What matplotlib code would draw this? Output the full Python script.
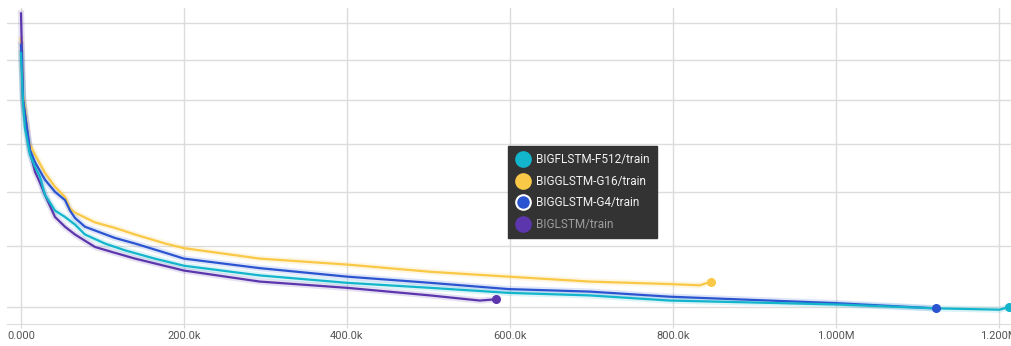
import numpy as np
import matplotlib
matplotlib.use("Agg")
import matplotlib.pyplot as plt
from matplotlib.lines import Line2D
from matplotlib.ticker import FuncFormatter, FixedLocator, NullLocator

plt.rcParams['font.family'] = ['Roboto', 'DejaVu Sans']

# training loss (step, smoothed loss)
g16_steps = [0, 2.5e3, 4.9e3, 9.0e3, 17.2e3, 29.4e3, 41.7e3, 54.0e3, 60.1e3, 66.3e3,
             90.8e3, 115e3, 140e3, 177e3, 200e3, 293e3, 400e3, 502e3, 598e3,
             698e3, 796e3, 833e3, 847e3]
g16_loss = [6.28, 5.55, 5.40, 5.02, 4.88, 4.69, 4.55, 4.45, 4.34, 4.30,
            4.21, 4.16, 4.10, 4.02, 3.98, 3.89, 3.84, 3.78, 3.74,
            3.70, 3.68, 3.67, 3.70]

g4_steps = [0, 2.5e3, 11e3, 17.2e3, 29.4e3, 41.7e3, 54.0e3, 60.1e3, 66.3e3, 78.5e3,
            115e3, 140e3, 177e3, 200e3, 293e3, 400e3, 502e3, 598e3, 698e3,
            796e3, 1.0e6, 1.123e6]
g4_loss = [6.20, 5.50, 4.93, 4.80, 4.62, 4.50, 4.42, 4.32, 4.25, 4.17,
           4.07, 4.02, 3.94, 3.89, 3.81, 3.74, 3.69, 3.64, 3.62,
           3.58, 3.53, 3.49]

f512_steps = [0, 2.5e3, 4.9e3, 11e3, 17.2e3, 23.3e3, 29.4e3, 41.7e3, 54.0e3, 66.3e3,
              78.5e3, 103e3, 128e3, 164e3, 200e3, 293e3, 400e3, 502e3, 598e3,
              698e3, 796e3, 1.0e6, 1.123e6, 1.201e6, 1.212e6]
f512_loss = [6.09, 5.45, 5.17, 4.88, 4.75, 4.65, 4.47, 4.32, 4.26, 4.19,
             4.10, 4.02, 3.96, 3.89, 3.83, 3.75, 3.69, 3.65, 3.61,
             3.59, 3.55, 3.52, 3.49, 3.48, 3.50]

big_steps = [0, 2.5e3, 11e3, 17.2e3, 23.3e3, 29.4e3, 41.7e3, 54.0e3, 66.3e3,
             90.8e3, 115e3, 140e3, 200e3, 293e3, 400e3, 502e3, 563e3, 583e3]
big_loss = [6.64, 5.50, 4.91, 4.70, 4.59, 4.47, 4.26, 4.17, 4.10,
            3.99, 3.94, 3.89, 3.79, 3.70, 3.65, 3.59, 3.55, 3.56]

names = ["BIGFLSTM-F512/train", "BIGGLSTM-G16/train", "BIGGLSTM-G4/train", "BIGLSTM/train"]
colors = ["#12B5CB", "#F9C846", "#2B55D0", "#5B36AC"]
grid_vals = [3.5, 4.0, 4.5, 5.0, 5.5, 6.0, 6.5]
x_ticks = [0, 200e3, 400e3, 600e3, 800e3, 1.0e6, 1.2e6]

fig = plt.figure(figsize=(10.12, 3.46), dpi=100)
ax = fig.add_axes([7 / 1012, 22 / 346, 1005 / 1012, 316 / 346])

series = [(f512_steps, f512_loss), (g16_steps, g16_loss), (g4_steps, g4_loss), (big_steps, big_loss)]
# draw order: purple at the back, cyan on top like the screenshot
for i in [1, 3, 2, 0]:
    xs, ys = series[i]
    ax.plot(xs, ys, color=colors[i], lw=4.5, alpha=0.15, solid_joinstyle='round', zorder=2)
for i in [1, 3, 2, 0]:
    xs, ys = series[i]
    ax.plot(xs, ys, color=colors[i], lw=1.6, zorder=3)
    ax.plot(xs[-1], ys[-1], 'o', color=colors[i], ms=5.5, zorder=4)

ax.set_yscale('log')
ax.set_ylim(3.373, 6.72)
ax.set_xlim(-17.2e3, 1.216e6)
ax.yaxis.set_major_locator(FixedLocator(grid_vals))
ax.yaxis.set_minor_locator(NullLocator())
ax.set_yticklabels([])
ax.tick_params(axis='y', length=0)


def fmt(x, pos):
    if x >= 1e6:
        return f"{x / 1e6:.3f}M"
    if x >= 1e3:
        return f"{x / 1e3:.1f}k"
    return f"{x:.3f}"


ax.xaxis.set_major_locator(FixedLocator(x_ticks))
ax.xaxis.set_major_formatter(FuncFormatter(fmt))
ax.tick_params(axis='x', length=3, color='#d9d9d9', labelsize=8, labelcolor='#555555', pad=2)

ax.grid(True, color='#dcdcdc', lw=1)
ax.set_axisbelow(True)
for s in ['top', 'right', 'left']:
    ax.spines[s].set_visible(False)
ax.spines['bottom'].set_color('#dcdcdc')

handles = []
for i, c in enumerate(colors):
    edge = 'white' if i == 2 else c
    handles.append(Line2D([], [], ls='none', marker='o', ms=10.5, markerfacecolor=c,
                          markeredgecolor=edge, markeredgewidth=1.5))
leg = ax.legend(handles, names, loc='upper left', bbox_to_anchor=(0.4985, 0.563),
                borderaxespad=0, frameon=True, fancybox=False, facecolor='#333333',
                edgecolor='#333333', framealpha=1, fontsize=8.5, handletextpad=0.5,
                handlelength=1.3, labelspacing=0.72, borderpad=0.6)
for i, t in enumerate(leg.get_texts()):
    t.set_color('#9e9e9e' if i == 3 else '#f2f2f2')

fig.savefig("out.png", dpi=100)
